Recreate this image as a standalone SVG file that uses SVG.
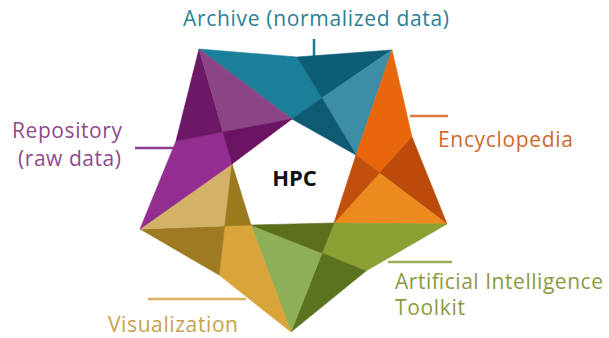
<svg xmlns="http://www.w3.org/2000/svg" width="609" height="338" viewBox="0 0 609 338">
<style>
polygon{stroke-width:0.6;stroke-linejoin:round}
.lbl{font-family:"Open Sans","Noto Sans",sans-serif;font-size:21px}
.tick{stroke-width:2.5;fill:none}
.t1{fill:#1a7f99;stroke:#1a7f99}.t2{fill:#0e5d77;stroke:#0e5d77}.t3{fill:#3b8ea5;stroke:#3b8ea5}.t4{fill:#0e5a72;stroke:#0e5a72}
.o1{fill:#e8670c;stroke:#e8670c}.o2{fill:#bb4a0b;stroke:#bb4a0b}.o3{fill:#ec8a1f;stroke:#ec8a1f}.o4{fill:#c0500b;stroke:#c0500b}
.g1{fill:#8aa033;stroke:#8aa033}.g2{fill:#5b731f;stroke:#5b731f}.g3{fill:#8fae58;stroke:#8fae58}.g4{fill:#5b6f1b;stroke:#5b6f1b}
.y1{fill:#d9a53a;stroke:#d9a53a}.y2{fill:#9e7b22;stroke:#9e7b22}.y3{fill:#d3b268;stroke:#d3b268}.y4{fill:#9b7a1c;stroke:#9b7a1c}
.p1{fill:#932d8f;stroke:#932d8f}.p2{fill:#6c1867;stroke:#6c1867}.p3{fill:#8b4486;stroke:#8b4486}.p4{fill:#6b1464;stroke:#6b1464}
</style>
<rect width="609" height="338" fill="#ffffff"/>
<g id="connectors">
<line class="tick" x1="314" y1="39" x2="314" y2="56" stroke="#1b7a95"/>
<line class="tick" x1="135" y1="148" x2="176" y2="148" stroke="#8d3c8c"/>
<line class="tick" x1="410" y1="116" x2="448" y2="116" stroke="#e07a3c"/>
<line class="tick" x1="388" y1="262" x2="452" y2="262" stroke="#9aae5a"/>
<line class="tick" x1="148" y1="299" x2="246" y2="299" stroke="#d9b060"/>
</g>
<g id="archive">
<polygon class="t1" points="199,49 297,57 322,98 292,119"/>
<polygon class="t2" points="297,57 392,50 322,98"/>
<polygon class="t3" points="392,50 356,155 322,98"/>
<polygon class="t4" points="322,98 356,155 292,119"/>
<text class="lbl" x="183" y="26" textLength="266" fill="#2b7f99">Archive (normalized data)</text>
</g>
<g id="encyclopedia">
<polygon class="o1" points="392,50 412,137 379.5,173 356,155"/>
<polygon class="o2" points="412,137 447,224 379.5,173"/>
<polygon class="o3" points="447,224 334,223 379.5,173"/>
<polygon class="o4" points="379.5,173 334,223 356,155"/>
<text class="lbl" x="438" y="147" textLength="135" fill="#d0692c">Encyclopedia</text>
</g>
<g id="ai-toolkit">
<polygon class="g1" points="447,224 366,271 322,253 334,223"/>
<polygon class="g2" points="366,271 291,332 322,253"/>
<polygon class="g3" points="291,332 251,225 322,253"/>
<polygon class="g4" points="322,253 251,225 334,223"/>
<text class="lbl" x="395" y="289" textLength="208" fill="#8a9a3f">Artificial Intelligence</text>
<text class="lbl" x="395" y="315" textLength="70" fill="#8a9a3f">Toolkit</text>
</g>
<g id="visualization">
<polygon class="y1" points="291,332 219,275 224.7,226 251,225"/>
<polygon class="y2" points="219,275 140,229 224.7,226"/>
<polygon class="y3" points="140,229 232,164 224.7,226"/>
<polygon class="y4" points="224.7,226 232,164 251,225"/>
<text class="lbl" x="108" y="332" textLength="130" fill="#c8a24e">Visualization</text>
</g>
<g id="repository">
<polygon class="p1" points="140,229 176,141 223,132 232,164"/>
<polygon class="p2" points="176,141 199,49 223,132"/>
<polygon class="p3" points="199,49 292,119 223,132"/>
<polygon class="p4" points="223,132 292,119 232,164"/>
<text class="lbl" x="12" y="138" textLength="110" fill="#8e4a8c">Repository</text>
<text class="lbl" x="18" y="166" textLength="103" fill="#8e4a8c">(raw data)</text>
</g>
<g id="hpc">
<text x="294.5" y="186" text-anchor="middle" font-family="'Open Sans','Liberation Sans',sans-serif" font-weight="bold" font-size="22" fill="#111111">HPC</text>
</g>
</svg>
